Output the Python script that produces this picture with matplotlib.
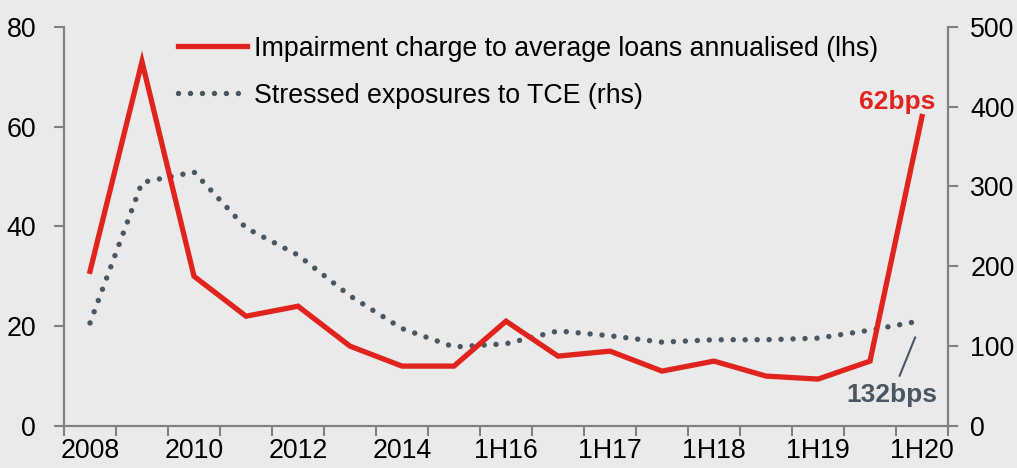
import numpy as np
import matplotlib
matplotlib.use("Agg")
import matplotlib.pyplot as plt

plt.rcParams['font.family'] = ['Liberation Sans', 'DejaVu Sans']

periods = ['2008', '2009', '2010', '2011', '2012', '2013', '2014', '2015',
           '1H16', '2H16', '1H17', '2H17', '1H18', '2H18', '1H19', '2H19', '1H20']
shown = ['2008', '2010', '2012', '2014', '1H16', '1H17', '1H18', '1H19', '1H20']
impairment = [31, 73, 30, 22, 24, 16, 12, 12, 21, 14, 15, 11, 13, 10, 9.4, 13, 62]
stressed = [129, 305, 318, 248, 214, 163, 122, 99, 103, 119, 113, 105, 108, 108, 110, 120, 132]

red = '#E0231C'
grey = '#4A5661'
spine = '#808080'
bg = '#EAEAEA'
fs = 19.3

fig = plt.figure(figsize=(10.17, 4.68), dpi=100, facecolor=bg)
ax = fig.add_axes([64/1017, 42/468, 884/1017, 399.3/468])
ax2 = ax.twinx()
ax.set_zorder(ax2.get_zorder() + 1)
ax.patch.set_visible(False)
ax2.set_facecolor(bg)

x = np.arange(len(periods))
l1, = ax.plot(x, impairment, color=red, lw=3.8, solid_joinstyle='miter',
              label='Impairment charge to average loans annualised (lhs)')
l2, = ax2.plot(x, stressed, color=grey, lw=3.9, linestyle=(0, (0.01, 2.2)),
               dash_capstyle='round', label='Stressed exposures to TCE (rhs)')

ax.set_xlim(-0.5, len(periods) - 0.5)
ax.set_ylim(0, 80)
ax2.set_ylim(0, 500)
ax.set_yticks(np.arange(0, 81, 20))
ax2.set_yticks(np.arange(0, 501, 100))

# boundaries get the tick marks, labels sit on category centres
ax.set_xticks(np.arange(-0.5, len(periods), 1))
ax.set_xticklabels([])
ax.set_xticks([periods.index(p) for p in shown], minor=True)
ax.set_xticklabels(shown, minor=True)
ax.tick_params(axis='x', which='major', length=7, width=1.5, color=spine)
ax.tick_params(axis='x', which='minor', length=0, pad=9, labelsize=fs)
ax.tick_params(axis='y', length=7, width=1.5, color=spine, pad=13, labelsize=fs)
ax2.tick_params(axis='y', length=7, width=1.5, color=spine, pad=9, labelsize=fs)

for a in (ax, ax2):
    a.spines['top'].set_visible(False)
    for s in ('left', 'right', 'bottom'):
        a.spines[s].set_color(spine)
        a.spines[s].set_linewidth(1.5)

ax.legend(handles=[l1, l2], loc='upper left', bbox_to_anchor=(0.1165, 1.004),
          frameon=False, fontsize=fs, handlelength=2.6, handletextpad=0.24,
          labelspacing=0.78, borderaxespad=0)

ax.annotate('62bps', xy=(x[-1], impairment[-1]), xytext=(13, 15),
            textcoords='offset pixels', ha='right', va='center',
            color=red, fontsize=19, fontweight='bold')
ax2.annotate('132bps', xy=(x[-1], stressed[-1]), xytext=(-30, -74),
             textcoords='offset pixels', ha='center', va='center',
             color=grey, fontsize=19, fontweight='bold',
             arrowprops=dict(arrowstyle='-', color=grey, lw=1.5,
                             shrinkA=3, shrinkB=13))

fig.savefig('out.png', dpi=100, facecolor=bg)
